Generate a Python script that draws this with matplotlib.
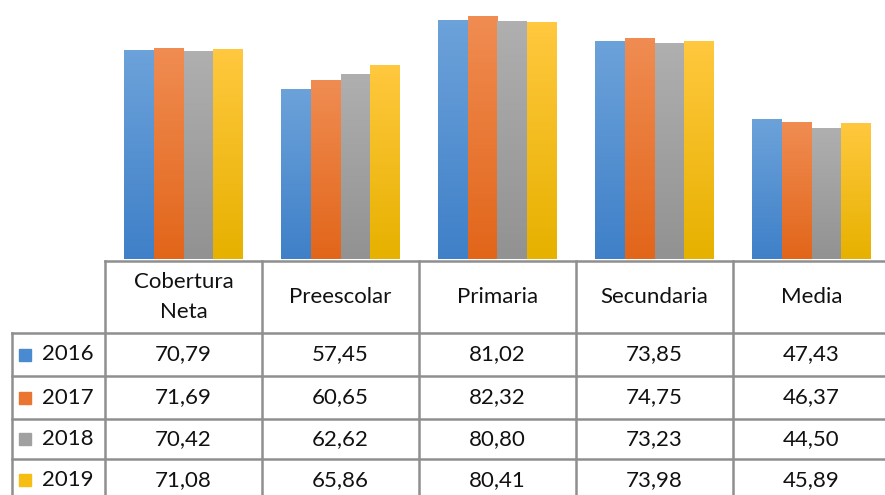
import numpy as np
import matplotlib.pyplot as plt
from matplotlib.colors import LinearSegmentedColormap

categories = ['Cobertura\nNeta', 'Preescolar', 'Primaria', 'Secundaria', 'Media']
years = ['2016', '2017', '2018', '2019']
v2016 = [70.79, 57.45, 81.02, 73.85, 47.43]
v2017 = [71.69, 60.65, 82.32, 74.75, 46.37]
v2018 = [70.42, 62.62, 80.80, 73.23, 44.50]
v2019 = [71.08, 65.86, 80.41, 73.98, 45.89]
series = [v2016, v2017, v2018, v2019]

# (top, bottom) gradient colours per series
grad = [('#6ca2da', '#3f80c8'), ('#f08c52', '#e2661a'),
        ('#afafaf', '#929292'), ('#ffc83e', '#e7b100')]
legend_col = ['#4a8ad0', '#ea7530', '#a0a0a0', '#f6bd12']

W, H = 885, 495
fig = plt.figure(figsize=(W / 100, H / 100), dpi=100)
plt.rcParams['font.family'] = ['Lato', 'DejaVu Sans']

# table geometry in pixels
x_left = 12
x_tab = 105
col_w = 157
y_head = 261
y_rows = [333, 376, 419, 459, 501]

# bar chart area sits right on top of the table
ax = fig.add_axes([x_tab / W, (H - y_head + 2) / H, 5 * col_w / W, (y_head - 2) / H])
ax.axis('off')

x = np.arange(len(categories))
bw = 0.188
for i, vals in enumerate(series):
    bars = ax.bar(x + (i - 1.5) * bw, vals, bw, color=grad[i][1], zorder=2)
    cmap = LinearSegmentedColormap.from_list('g%d' % i, [grad[i][1], grad[i][0]])
    g = np.linspace(0, 1, 64).reshape(-1, 1)
    for b in bars:
        ax.imshow(g, extent=[b.get_x(), b.get_x() + b.get_width(), 0, b.get_height()],
                  origin='lower', aspect='auto', cmap=cmap, zorder=3)
ax.set_xlim(-0.5, 4.5)
ax.set_ylim(0, 88)

# data table
tx = fig.add_axes([0, 0, 1, 1])
tx.set_xlim(0, W)
tx.set_ylim(H, 0)
tx.axis('off')
lc = '#8f8f8f'
lw = 1.8
x_end = x_tab + 5 * col_w
tx.plot([x_tab, x_end], [y_head, y_head], color=lc, lw=lw)
for y in y_rows[:-1]:
    tx.plot([x_left, x_end], [y, y], color=lc, lw=lw)
tx.plot([x_left, x_left], [y_rows[0], H], color=lc, lw=lw)
for j in range(6):
    xv = x_tab + j * col_w
    tx.plot([xv, xv], [y_head, H], color=lc, lw=lw)

for j, cat in enumerate(categories):
    cx = x_tab + (j + 0.5) * col_w
    tx.text(cx, (y_head + y_rows[0]) / 2, cat, ha='center', va='center',
            fontsize=16, linespacing=1.6, color='#111111')

for i, yr in enumerate(years):
    cy = (y_rows[i] + y_rows[i + 1]) / 2
    tx.add_patch(plt.Rectangle((19, cy - 6), 12, 12, color=legend_col[i]))
    tx.text(68, cy, yr, ha='center', va='center', fontsize=16, color='#111111')
    for j in range(len(categories)):
        cx = x_tab + (j + 0.5) * col_w
        tx.text(cx, cy, ('%.2f' % series[i][j]).replace('.', ','), ha='center',
                va='center', fontsize=16, color='#111111')

fig.savefig('out.png', dpi=100)
